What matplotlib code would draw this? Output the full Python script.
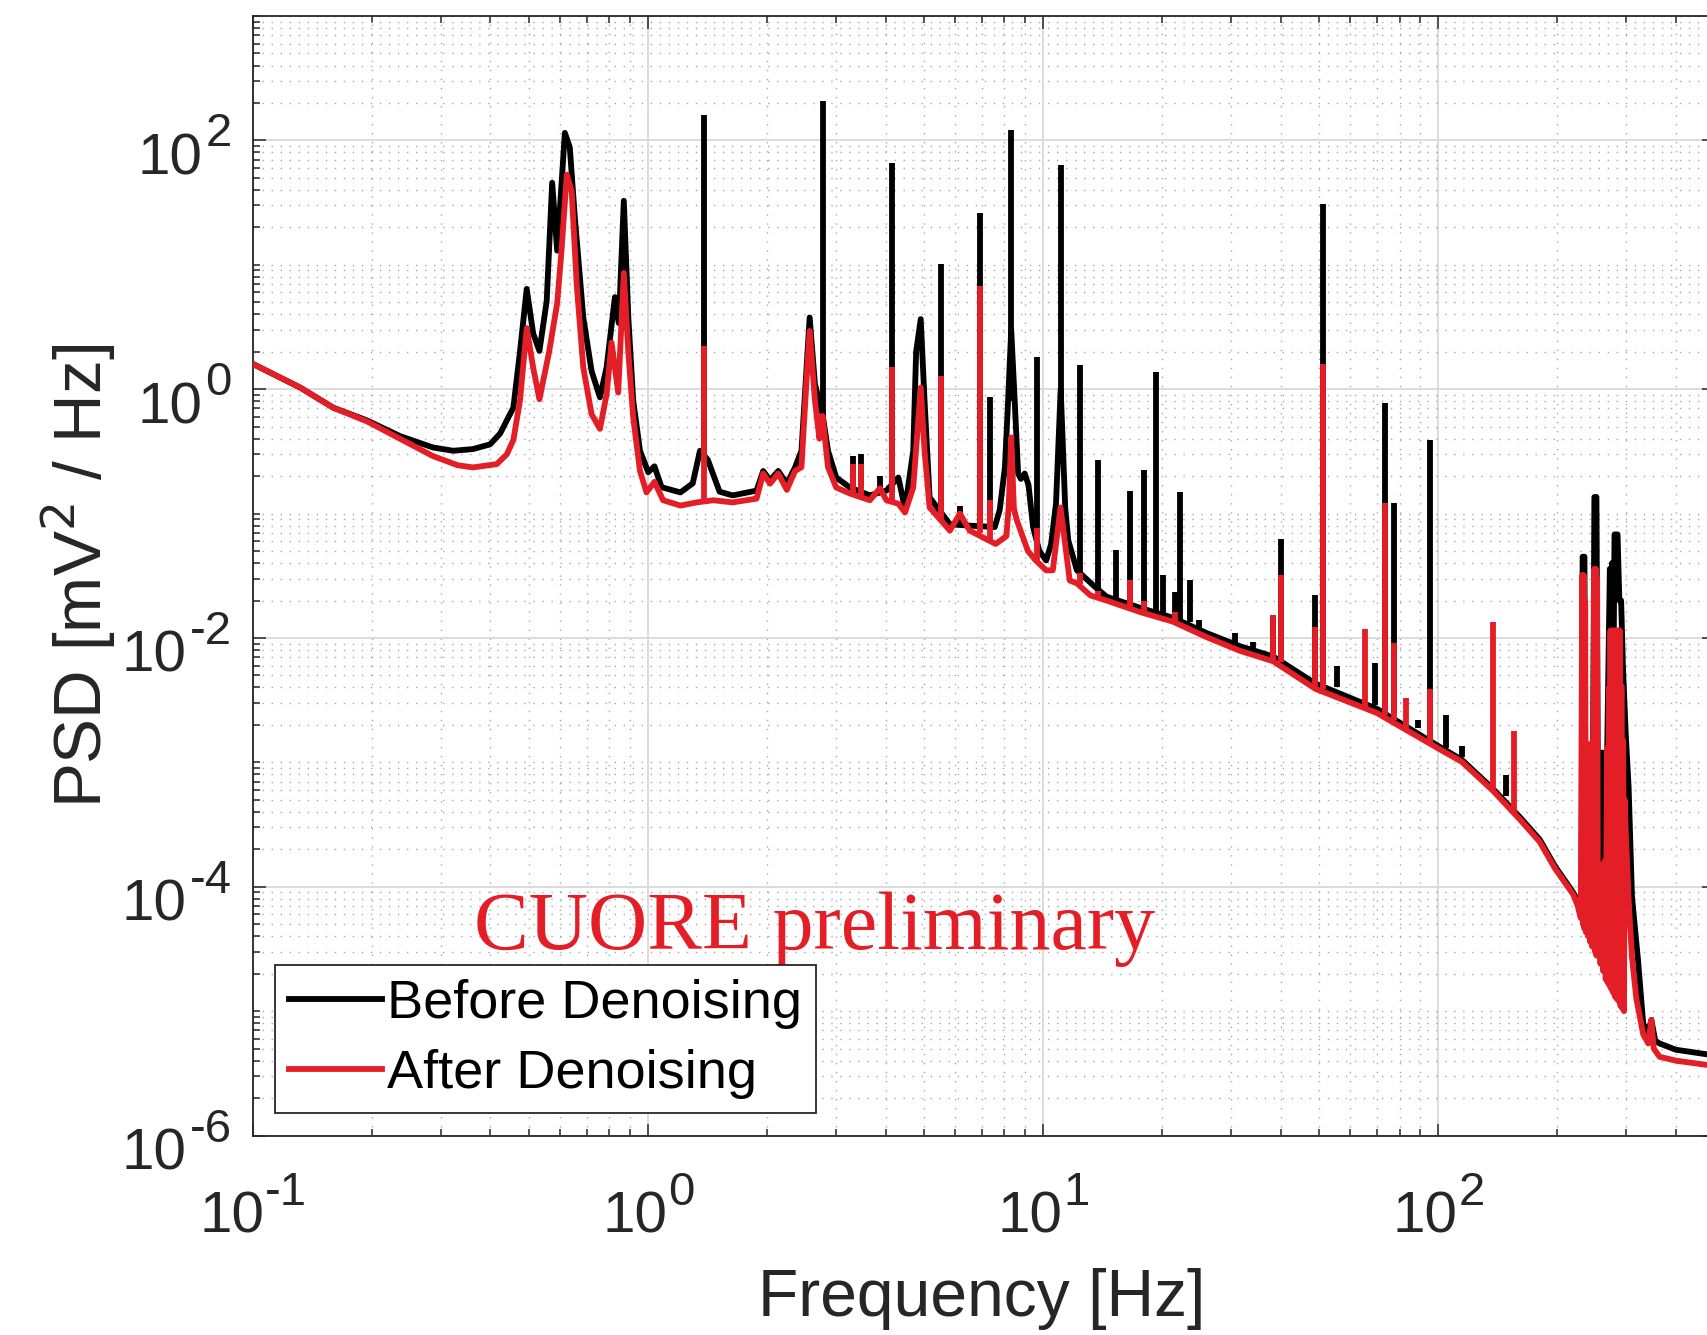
import numpy as np
import matplotlib
matplotlib.use("Agg")
import matplotlib.pyplot as plt
from matplotlib.ticker import LogLocator, NullFormatter, FixedLocator

# =========================
# 0. 字体
# =========================
plt.rcParams["font.family"] = ["Liberation Sans", "DejaVu Sans"]

# =========================
# 1. 数据
# =========================

# continuum + broad resonances, before denoising
before_f = [0.1, 0.132, 0.16, 0.195, 0.236, 0.286, 0.322, 0.361, 0.399, 0.423,
            0.457, 0.475, 0.494, 0.513, 0.532, 0.555, 0.573, 0.59, 0.617, 0.635,
            0.654, 0.687, 0.721, 0.757, 0.787, 0.826, 0.845, 0.87, 0.893, 0.919,
            0.956, 1.003, 1.04, 1.084, 1.21, 1.30, 1.356, 1.42, 1.52, 1.64,
            1.886, 1.96, 2.04, 2.14, 2.25, 2.36, 2.45, 2.57, 2.65, 2.77,
            2.86, 3.0, 3.25, 3.65, 4.02, 4.31, 4.48, 4.7, 4.78, 4.91,
            5.02, 5.17, 5.82, 6.53, 7.56, 7.78, 8.02, 8.17, 8.32, 8.49,
            8.66, 8.8, 9.0, 9.2, 9.45, 9.8, 10.2, 10.5, 10.8, 11.1,
            11.4, 11.6, 12.2, 13.7, 14.5, 17.6, 21.4, 25.9, 31.5, 38.3,
            49, 70, 100, 115, 138, 161, 181, 198, 220, 228,
            231, 232.5, 235, 236.5, 240, 244, 247, 249, 252, 254,
            258, 261, 264, 268, 272.5, 274, 276, 278, 280, 285,
            288, 291, 294, 299, 304, 310, 321, 331, 341, 347,
            355, 364, 400, 479, 500]
before_psd = [1.6, 1.03, 0.71, 0.56, 0.42, 0.34, 0.32, 0.33, 0.36, 0.44,
              0.71, 2.0, 6.4, 2.8, 2.03, 5.1, 45.7, 13, 115, 88,
              24, 3.77, 1.4, 0.86, 1.5, 5.5, 3.4, 32.7, 3.8, 0.81,
              0.32, 0.215, 0.24, 0.163, 0.148, 0.175, 0.32, 0.27, 0.15, 0.14,
              0.153, 0.22, 0.185, 0.22, 0.174, 0.235, 0.32, 3.77, 1.1, 0.63,
              0.32, 0.195, 0.162, 0.14, 0.153, 0.195, 0.109, 0.32, 2.0, 3.66,
              0.81, 0.135, 0.082, 0.08, 0.078, 0.107, 0.236, 0.81, 3.0, 0.81,
              0.21, 0.19, 0.21, 0.17, 0.078, 0.05, 0.042, 0.057, 0.12, 1.0,
              0.11, 0.061, 0.035, 0.025, 0.0215, 0.0175, 0.0145, 0.011, 0.0086, 0.0071,
              0.0043, 0.0027, 0.00136, 0.00105, 0.00061, 0.000365, 0.00024, 0.000146, 9.0e-5, 7.3e-5,
              6.0e-5, 0.045, 0.045, 2.0e-4, 5.2e-4, 4.5e-4, 1.0e-3, 0.136, 0.136, 1.0e-3,
              1.5e-4, 1.2e-3, 1.5e-4, 1.0e-3, 0.036, 5.0e-3, 0.04, 3.0e-3, 0.068, 0.068,
              0.02, 0.02, 0.006, 1.66e-3, 6.3e-4, 8.3e-5, 2.6e-5, 7.9e-6, 6.8e-6, 8.5e-6,
              5.8e-6, 5.5e-6, 4.9e-6, 4.5e-6, 4.5e-6]

# continuum + broad resonances, after denoising
after_f = [0.1, 0.132, 0.16, 0.195, 0.236, 0.286, 0.33, 0.361, 0.415, 0.44,
           0.457, 0.475, 0.494, 0.513, 0.532, 0.563, 0.59, 0.605, 0.624, 0.642,
           0.661, 0.687, 0.721, 0.757, 0.787, 0.81, 0.842, 0.87, 0.893, 0.919,
           0.956, 0.993, 1.04, 1.094, 1.21, 1.33, 1.466, 1.64, 1.886, 1.96,
           2.04, 2.14, 2.25, 2.36, 2.45, 2.52, 2.57, 2.65, 2.72, 2.77,
           2.86, 3.0, 3.25, 3.65, 3.87, 4.02, 4.31, 4.48, 4.7, 4.91,
           5.02, 5.17, 5.82, 6.17, 6.53, 7.6, 8.09, 8.2, 8.32, 8.45,
           8.6, 9.17, 9.6, 10.2, 10.6, 11.09, 11.7, 12.2, 13.2, 14.5,
           17.6, 21.4, 25.9, 31.5, 38.3, 49, 70, 100, 115, 138,
           161, 181, 198, 220, 226, 230, 232, 233, 234, 235,
           236, 237, 238.5, 240, 241.5, 243, 244.5, 246, 247.5, 249,
           250, 251, 252, 253, 254, 256, 258, 260, 262, 264,
           266, 268, 269, 271, 272, 273.5, 275, 276.5, 278, 279.5,
           281, 282.5, 284, 285.5, 287, 288.5, 290, 291.5, 293, 294.5,
           296, 297, 299, 304, 310, 318, 331, 341, 347, 352,
           364, 400, 479, 500]
after_psd = [1.6, 1.03, 0.71, 0.55, 0.40, 0.29, 0.245, 0.235, 0.25, 0.30,
             0.39, 0.81, 3.1, 1.49, 0.83, 2.0, 4.9, 12.9, 53, 39,
             7.0, 1.49, 0.63, 0.48, 0.91, 2.37, 0.94, 8.6, 2.0, 0.59,
             0.22, 0.148, 0.18, 0.128, 0.116, 0.123, 0.128, 0.123, 0.132, 0.21,
             0.174, 0.21, 0.155, 0.22, 0.236, 1.1, 2.94, 0.81, 0.40, 0.61,
             0.236, 0.162, 0.145, 0.128, 0.16, 0.128, 0.12, 0.102, 0.162, 1.03,
             0.32, 0.112, 0.073, 0.10, 0.073, 0.057, 0.066, 0.115, 0.41, 0.11,
             0.088, 0.05, 0.042, 0.035, 0.035, 0.112, 0.029, 0.0275, 0.022, 0.020,
             0.0162, 0.0135, 0.0102, 0.0079, 0.0065, 0.0039, 0.0025, 0.0013, 0.00101, 0.00059,
             0.00035, 0.00023, 0.00014, 8.7e-5, 7.0e-5, 5.6e-5, 0.032, 5.0e-5, 0.032, 4.6e-5,
             0.02, 4.3e-5, 1.4e-3, 4.0e-5, 1.4e-3, 3.6e-5, 1.2e-3, 3.3e-5, 2.0e-3, 0.036,
             3.0e-5, 0.036, 2.8e-5, 0.03, 1.0e-4, 1.5e-4, 2.4e-5, 1.5e-4, 2.1e-5, 1.6e-4,
             1.8e-5, 1.3e-3, 1.7e-5, 4.0e-3, 1.6e-5, 0.0115, 1.5e-5, 0.0115, 1.4e-5, 0.0115,
             1.3e-5, 0.0115, 1.25e-5, 0.0115, 1.2e-5, 0.0115, 1.1e-5, 4.1e-3, 1.05e-5, 1.5e-3,
             1.0e-5, 5.0e-4, 2.7e-4, 7.9e-5, 2.7e-5, 1.26e-5, 6.5e-6, 5.5e-6, 8.5e-6, 5.0e-6,
             4.3e-6, 4.0e-6, 3.7e-6, 3.7e-6]

# narrow lines (frequency, foot, top)
before_line_f = [1.387, 2.77, 3.31, 3.47, 3.87, 4.16, 5.54, 6.17, 6.93, 7.34,
                 8.32, 9.69, 11.09, 12.45, 13.8, 15.3, 16.6, 18.0, 19.4, 20.1,
                 21.6, 22.2, 23.6, 24.9, 30.6, 34.0, 38.3, 40.0, 49.0, 51.2,
                 55.4, 69.3, 73.3, 77.6, 89.0, 95.5, 105, 115, 149]
before_line_lo = [0.30, 0.60, 0.16, 0.16, 0.14, 0.15, 0.10, 0.081, 0.078, 0.075,
                  0.8, 0.065, 0.5, 0.032, 0.025, 0.0205, 0.0185, 0.017, 0.016, 0.0155,
                  0.0148, 0.0143, 0.0135, 0.012, 0.0088, 0.0080, 0.0071, 0.0069, 0.0044, 0.0043,
                  0.0040, 0.0029, 0.0026, 0.0025, 0.0019, 0.0015, 0.0013, 0.0011, 0.00054]
before_line_hi = [160, 207, 0.29, 0.30, 0.20, 66, 10.1, 0.115, 26.3, 0.86,
                  122, 1.8, 63, 1.57, 0.27, 0.051, 0.153, 0.226, 1.38, 0.032,
                  0.0234, 0.149, 0.029, 0.0139, 0.0109, 0.0093, 0.0152, 0.063, 0.022, 31,
                  0.0059, 0.0063, 0.78, 0.122, 0.0022, 0.39, 0.0024, 0.00135, 0.00079]

after_line_f = [1.387, 3.31, 3.47, 4.16, 5.54, 6.93, 7.34, 9.69, 12.45, 13.8,
                16.6, 18.0, 21.6, 38.3, 40.0, 49.0, 51.2, 65.3, 73.3, 77.6,
                83.0, 95.5, 138, 156]
after_line_lo = [0.123, 0.14, 0.14, 0.125, 0.088, 0.07, 0.062, 0.04, 0.027, 0.021,
                 0.0172, 0.0165, 0.0138, 0.0065, 0.0064, 0.0040, 0.0039, 0.0028, 0.0024, 0.0022,
                 0.0019, 0.0014, 0.00059, 0.00040]
after_line_hi = [2.23, 0.25, 0.25, 1.5, 1.28, 6.7, 0.128, 0.076, 0.033, 0.024,
                 0.029, 0.020, 0.0162, 0.0152, 0.032, 0.0123, 1.6, 0.0117, 0.122, 0.0091,
                 0.0033, 0.0039, 0.0135, 0.0018]

x_ticks = [0.1, 1, 10, 100]
x_tick_exp = ["-1", "0", "1", "2"]
y_ticks = [1e-6, 1e-4, 1e-2, 1e0, 1e2]
y_tick_exp = ["-6", "-4", "-2", "0", "2"]

# =========================
# 2. 绘图
# =========================
black = "#000000"
red = "#e41e26"
ink = "#262626"
lw = 4.2

fig = plt.figure(figsize=(17.07, 13.35), dpi=100)
ax = fig.add_axes([0.148, 0.1494, 0.8561, 0.8386])
ax.set_xscale("log")
ax.set_yscale("log")

ax.plot(before_f, before_psd, color=black, lw=lw, zorder=2, label="Before Denoising")
ax.vlines(before_line_f, before_line_lo, before_line_hi, color=black, lw=lw, zorder=2)
ax.plot(after_f, after_psd, color=red, lw=lw, zorder=3, label="After Denoising")
ax.vlines(after_line_f, after_line_lo, after_line_hi, color=red, lw=lw, zorder=3)

ax.set_xlim(0.1, 500)
ax.set_ylim(1e-6, 1e3)

ax.xaxis.set_major_locator(FixedLocator(x_ticks))
ax.yaxis.set_major_locator(FixedLocator(y_ticks))
ax.xaxis.set_minor_locator(LogLocator(base=10, subs=np.arange(1, 10), numticks=50))
ax.yaxis.set_minor_locator(LogLocator(base=10, subs=np.arange(1, 10), numticks=50))
ax.xaxis.set_minor_formatter(NullFormatter())
ax.yaxis.set_minor_formatter(NullFormatter())

ax.tick_params(which="both", direction="in", top=True, right=True,
               colors=ink, width=1.1, labelbottom=False, labelleft=False)
ax.tick_params(which="major", length=9)
ax.tick_params(which="minor", length=5)

ax.grid(True, which="major", color="#dcdcdc", lw=1.4, ls="-")
ax.grid(True, which="minor", color="#a8a8a8", lw=1.0, ls=(0, (1, 5.5)))
ax.set_axisbelow(True)

for sp in ax.spines.values():
    sp.set_color(ink)
    sp.set_linewidth(1.3)

# tick labels drawn as 10 + raised exponent (MATLAB look)
base_size = 42
exp_size = 34
px = 100 / 72
for v, e in zip(x_ticks, x_tick_exp):
    base_w = 1.112 * base_size * px
    exp_w = (0.889 if e.startswith("-") else 0.556) * exp_size * px
    b = ax.annotate("10", xy=(v, 0), xycoords=ax.get_xaxis_transform(),
                    xytext=(-(base_w + exp_w) / 2, -97), textcoords="offset pixels",
                    ha="left", va="baseline", fontsize=base_size, color=ink,
                    annotation_clip=False)
    ax.annotate(e, xy=(1, 0), xycoords=(b, ax.get_xaxis_transform()),
                xytext=(1, -69), textcoords="offset pixels",
                ha="left", va="baseline", fontsize=exp_size, color=ink,
                annotation_clip=False)

for v, e in zip(y_ticks, y_tick_exp):
    ex = ax.annotate(e, xy=(0, v), xycoords=ax.get_yaxis_transform(),
                     xytext=(-21, -6), textcoords="offset pixels",
                     ha="right", va="baseline", fontsize=exp_size, color=ink,
                     annotation_clip=False)
    ax.annotate("10", xy=(0, v), xycoords=(ex, ax.get_yaxis_transform()),
                xytext=(-3, -34), textcoords="offset pixels",
                ha="right", va="baseline", fontsize=base_size, color=ink,
                annotation_clip=False)

fig.text(982 / 1707, 1 - 1299 / 1335, "Frequency [Hz]", fontsize=47.5, color=ink,
         ha="center", va="center")
fig.text(78 / 1707, 1 - 576 / 1335, "PSD [mV$^2$ / Hz]", fontsize=48.5, color=ink,
         ha="center", va="center", rotation=90)

ax.text(0.1512, 0.1666, "CUORE preliminary", transform=ax.transAxes,
        fontsize=59, color=red, family="Liberation Serif",
        ha="left", va="baseline", zorder=5)

leg = ax.legend(loc="lower left", fontsize=39, frameon=True, fancybox=False,
                framealpha=1, edgecolor=ink, handlelength=1.7, handletextpad=0.1,
                borderpad=0.26, labelspacing=0.36, borderaxespad=0.42)
leg.get_frame().set_linewidth(1.3)
leg.set_zorder(6)

fig.savefig("out.png", dpi=100)
